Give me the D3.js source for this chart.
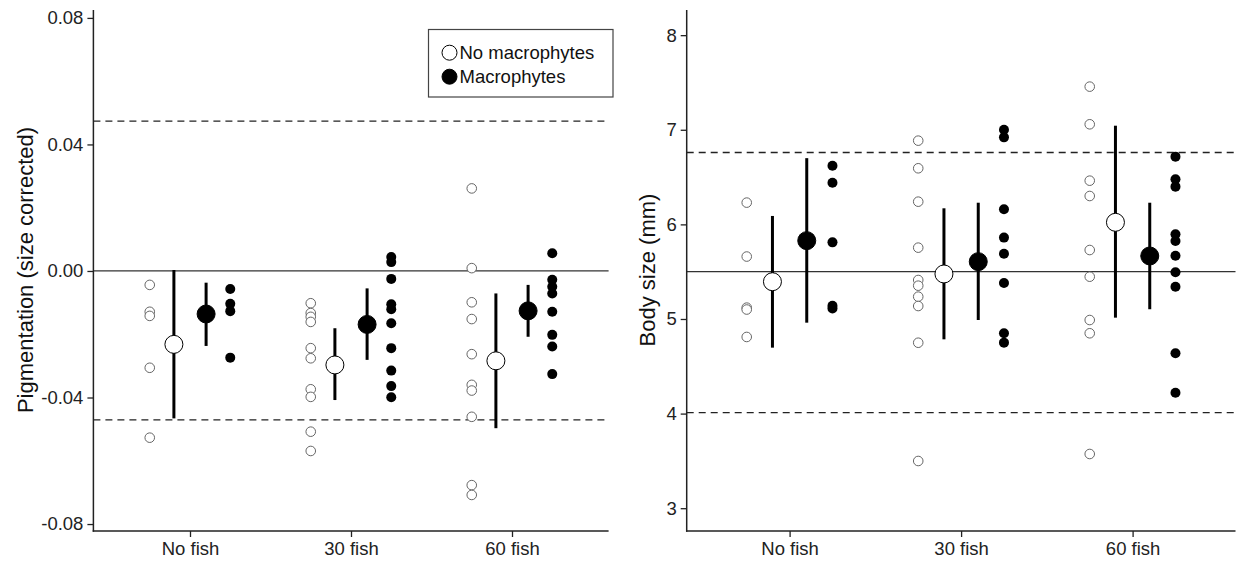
<!DOCTYPE html>
<html>
<head>
<meta charset="utf-8">
<script src="https://d3js.org/d3.v7.min.js"></script>
<style>
  body { margin: 0; background: #fff; }
  text { font-family: "Liberation Sans", Arial, sans-serif; }
</style>
</head>
<body>
<div id="viz"></div>
<script>
// categories and legend labels
const categories = ["No fish", "30 fish", "60 fish"];
const groupLabels = ["No macrophytes", "Macrophytes"];

// pigmentation (size corrected): raw points per category
const pigNoMac = [
  [-0.0044, -0.0129, -0.0142, -0.0306, -0.0527],
  [-0.0102, -0.0133, -0.0145, -0.0161, -0.0244, -0.0276, -0.0374, -0.0398, -0.0508, -0.0569],
  [0.0261, 0.0009, -0.0099, -0.0152, -0.0263, -0.0360, -0.0378, -0.0461, -0.0677, -0.0708]
];
const pigMac = [
  [-0.0057, -0.0104, -0.0127, -0.0274],
  [0.0044, 0.0028, -0.0025, -0.0105, -0.0121, -0.0165, -0.0244, -0.0315, -0.0364, -0.0399],
  [0.0056, -0.0028, -0.0050, -0.0071, -0.0129, -0.0202, -0.0239, -0.0326]
];
const pigNoMacMean = [-0.0232, -0.0297, -0.0284];
const pigNoMacLo = [-0.0466, -0.0408, -0.0497];
const pigNoMacHi = [0.0003, -0.0181, -0.0071];
const pigMacMean = [-0.0136, -0.0169, -0.0126];
const pigMacLo = [-0.0237, -0.0281, -0.0208];
const pigMacHi = [-0.0037, -0.0055, -0.0044];
const pigRefSolid = [0];
const pigRefDashed = [0.0474, -0.0471];
const pigTicks = [-0.08, -0.04, 0, 0.04, 0.08];

// body size (mm)
const bodyNoMac = [
  [6.23, 5.66, 5.12, 5.10, 4.81],
  [6.885, 6.593, 6.240, 5.754, 5.412, 5.352, 5.236, 5.137, 4.749, 3.499],
  [7.456, 7.058, 6.462, 6.300, 5.729, 5.447, 4.989, 4.849, 3.573]
];
const bodyMac = [
  [6.62, 6.44, 5.81, 5.14, 5.11],
  [7.00, 6.92, 6.16, 5.86, 5.69, 5.38, 4.85, 4.75],
  [6.716, 6.477, 6.399, 5.895, 5.825, 5.669, 5.494, 5.341, 4.637, 4.221]
];
const bodyNoMacMean = [5.394, 5.476, 6.022];
const bodyNoMacLo = [4.697, 4.785, 5.014];
const bodyNoMacHi = [6.089, 6.170, 7.043];
const bodyMacMean = [5.828, 5.606, 5.666];
const bodyMacLo = [4.961, 4.989, 5.103];
const bodyMacHi = [6.70, 6.229, 6.229];
const bodyRefSolid = [5.50];
const bodyRefDashed = [6.76, 4.01];
const bodyTicks = [3, 4, 5, 6, 7, 8];

const width = 1239, height = 565;
const svg = d3.select('#viz').append('svg')
  .attr('width', width)
  .attr('height', height);

function panel(opt) {
  const x = d3.scalePoint().domain(categories).range([opt.left, opt.right]).padding(0.6);
  const y = d3.scaleLinear().domain(opt.domain).range([531, 10]);
  const step = x.step();
  const g = svg.append('g');

  // reference lines
  g.selectAll('.solid').data(opt.solid).enter().append('line')
    .attr('x1', opt.left).attr('x2', opt.right)
    .attr('y1', d => y(d)).attr('y2', d => y(d))
    .attr('stroke', '#333').attr('stroke-width', 1.3);
  g.selectAll('.dash').data(opt.dashed).enter().append('line')
    .attr('x1', opt.left).attr('x2', opt.right)
    .attr('y1', d => y(d)).attr('y2', d => y(d))
    .attr('stroke', '#222').attr('stroke-width', 1.3)
    .attr('stroke-dasharray', '7,5');

  // raw points
  categories.forEach((c, i) => {
    g.selectAll(null).data(opt.rawOpen[i]).enter().append('circle')
      .attr('cx', x(c) - 0.25 * step).attr('cy', d => y(d)).attr('r', 4.8)
      .attr('fill', '#fff').attr('stroke', '#666').attr('stroke-width', 1);
    g.selectAll(null).data(opt.rawFill[i]).enter().append('circle')
      .attr('cx', x(c) + 0.25 * step).attr('cy', d => y(d)).attr('r', 5)
      .attr('fill', '#000');
  });

  // error bars and means
  const means = [
    { off: -0.1, m: opt.openMean, lo: opt.openLo, hi: opt.openHi, fill: '#fff' },
    { off: 0.1, m: opt.fillMean, lo: opt.fillLo, hi: opt.fillHi, fill: '#000' }
  ];
  means.forEach(s => {
    categories.forEach((c, i) => {
      const cx = x(c) + s.off * step;
      g.append('line')
        .attr('x1', cx).attr('x2', cx)
        .attr('y1', y(s.lo[i])).attr('y2', y(s.hi[i]))
        .attr('stroke', '#000').attr('stroke-width', 3);
      g.append('circle')
        .attr('cx', cx).attr('cy', y(s.m[i])).attr('r', 9)
        .attr('fill', s.fill).attr('stroke', '#000').attr('stroke-width', 1);
    });
  });

  // axes
  const ya = g.append('g')
    .attr('transform', `translate(${opt.left},0)`)
    .call(d3.axisLeft(y).tickValues(opt.ticks).tickFormat(opt.fmt)
      .tickSizeOuter(0).tickSize(6).tickPadding(4));
  const xa = g.append('g')
    .attr('transform', 'translate(0,531)')
    .call(d3.axisBottom(x).tickSizeOuter(0).tickSize(6).tickPadding(5));
  [ya, xa].forEach(a => {
    a.select('.domain').attr('stroke', '#222').attr('stroke-width', 1.5);
    a.selectAll('.tick line').attr('stroke', '#222').attr('stroke-width', 1.3);
    a.selectAll('.tick text').attr('fill', '#222').style('font-size', '18.5px')
      .style('font-family', '"Liberation Sans", Arial, sans-serif');
  });
  // extend the y axis line down to the corner
  ya.select('.domain').attr('d', `M0,10V531.7`);
  xa.select('.domain').attr('d', `M${opt.left - 0.7},0H${opt.right}`);

  svg.append('text')
    .attr('transform', `translate(${opt.titleX},270) rotate(-90)`)
    .attr('text-anchor', 'middle')
    .attr('dominant-baseline', 'central')
    .style('font-size', '22px')
    .attr('fill', '#111')
    .text(opt.title);
}

panel({
  left: 93.4, right: 608.6, domain: [-0.0822, 0.0825],
  ticks: pigTicks, fmt: d => d.toFixed(2),
  solid: pigRefSolid, dashed: pigRefDashed,
  rawOpen: pigNoMac, rawFill: pigMac,
  openMean: pigNoMacMean, openLo: pigNoMacLo, openHi: pigNoMacHi,
  fillMean: pigMacMean, fillLo: pigMacLo, fillHi: pigMacHi,
  title: 'Pigmentation (size corrected)', titleX: 25
});

panel({
  left: 686.7, right: 1235.5, domain: [2.759, 8.266],
  ticks: bodyTicks, fmt: d3.format('d'),
  solid: bodyRefSolid, dashed: bodyRefDashed,
  rawOpen: bodyNoMac, rawFill: bodyMac,
  openMean: bodyNoMacMean, openLo: bodyNoMacLo, openHi: bodyNoMacHi,
  fillMean: bodyMacMean, fillLo: bodyMacLo, fillHi: bodyMacHi,
  title: 'Body size (mm)', titleX: 647
});

// legend
const lg = svg.append('g');
lg.append('rect')
  .attr('x', 428.5).attr('y', 29.5).attr('width', 184.5).attr('height', 67.5)
  .attr('fill', '#fff').attr('stroke', '#444').attr('stroke-width', 1.2);
const legFill = ['#fff', '#000'];
lg.selectAll('.item').data(groupLabels).enter().append('g')
  .attr('transform', (d, i) => `translate(449.5,${52.7 + i * 24})`)
  .each(function(d, i) {
    const it = d3.select(this);
    it.append('circle').attr('r', 7.5)
      .attr('fill', legFill[i]).attr('stroke', '#000').attr('stroke-width', 1);
    it.append('text').attr('x', 10).attr('dominant-baseline', 'central')
      .style('font-size', '18.5px').attr('fill', '#111').text(d);
  });
</script>
</body>
</html>
